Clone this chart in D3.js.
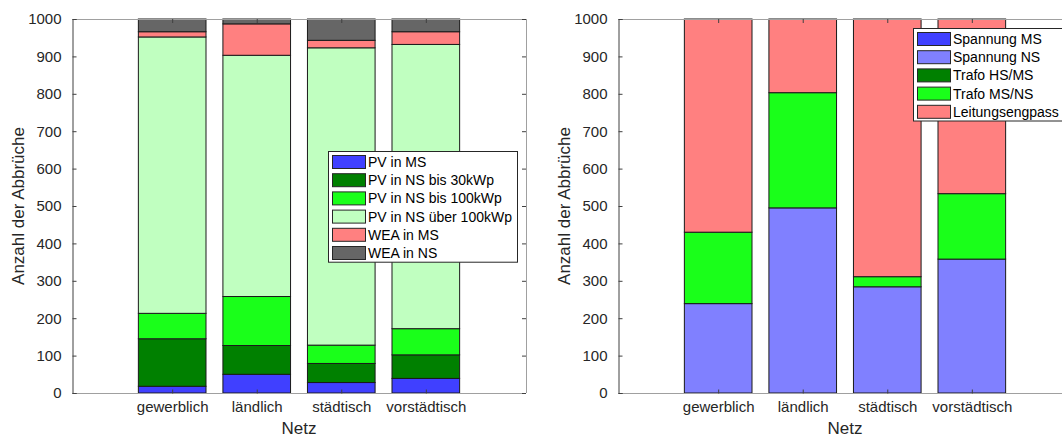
<!DOCTYPE html>
<html>
<head>
<meta charset="utf-8">
<script src="https://cdn.jsdelivr.net/npm/d3@7"></script>
<style>
  html, body { margin: 0; padding: 0; background: #fff; }
  svg { display: block; font-family: "Liberation Sans", Arial, sans-serif; }
</style>
</head>
<body>
<svg id="chart" width="1062" height="438"></svg>
<script>
// Grid types shared by both panels
const categories = ["gewerblich", "ländlich", "städtisch", "vorstädtisch"];
const yTicks = [0, 100, 200, 300, 400, 500, 600, 700, 800, 900, 1000];

// Left panel: aborts by generator type (stacked)
const leftNames = ["PV in MS", "PV in NS bis 30kWp", "PV in NS bis 100kWp", "PV in NS über 100kWp", "WEA in MS", "WEA in NS"];
const pvMS      = [18, 50, 28, 39];
const pvNS30    = [127, 77, 51, 63];
const pvNS100   = [68, 131, 49, 70];
const pvNSover  = [739, 645, 795, 760];
const weaMS     = [14, 84, 20, 34];
const weaNS     = [34, 13, 57, 34];
const leftColors = ["#4040ff", "#008000", "#1aff1a", "#c0ffc0", "#ff8080", "#666666"];

// Right panel: aborts by violated limit (stacked)
const rightNames = ["Spannung MS", "Spannung NS", "Trafo HS/MS", "Trafo MS/NS", "Leitungsengpass"];
const spannungMS = [0, 0, 0, 0];
const spannungNS = [239, 495, 284, 358];
const trafoHSMS  = [0, 0, 0, 0];
const trafoMSNS  = [191, 308, 27, 175];
const leitung    = [570, 197, 689, 467];
const rightColors = ["#4040ff", "#8080ff", "#008000", "#1aff1a", "#ff8080"];

const svg = d3.select("#chart");
const textColor = "#262626";
const boxColor = "#a0a0a0";

function drawPanel(left, seriesValues, names, colors, legendPos) {
  const width = 454, top = 19, bottom = 393;
  const g = svg.append("g").attr("transform", `translate(${left},0)`);

  const x = d3.scaleLinear().domain([-0.185, 5.185]).range([0, width]);
  const y = d3.scaleLinear().domain([0, 1000]).range([bottom, top]);
  const barW = x(0.8) - x(0);

  // build stacked table
  const rows = categories.map((c, i) => {
    const r = { cat: c, idx: i + 1 };
    names.forEach((n, k) => { r[n] = seriesValues[k][i]; });
    return r;
  });
  const stacked = d3.stack().keys(names)(rows);

  stacked.forEach((layer, k) => {
    g.append("g").selectAll("rect")
      .data(layer.filter(d => d[1] - d[0] > 0))
      .join("rect")
      .attr("x", d => x(d.data.idx) - barW / 2)
      .attr("width", barW)
      .attr("y", d => y(d[1]))
      .attr("height", d => y(d[0]) - y(d[1]))
      .attr("fill", colors[k])
      .attr("stroke", "#1a1a1a")
      .attr("stroke-width", 1);
  });

  // axes box
  const box = g.append("g").attr("fill", "none").attr("stroke", boxColor).attr("stroke-width", 1);
  box.append("line").attr("x1", 0).attr("x2", width).attr("y1", top + 0.5).attr("y2", top + 0.5);
  box.append("line").attr("x1", 0).attr("x2", width).attr("y1", bottom + 0.5).attr("y2", bottom + 0.5);
  box.append("line").attr("x1", width + 0.5).attr("x2", width + 0.5).attr("y1", top).attr("y2", bottom);

  // y axis (left) with inward ticks
  const yAxis = d3.axisLeft(y).tickValues(yTicks).tickSize(-4).tickPadding(11).tickFormat(d3.format("d"));
  const ya = g.append("g").attr("transform", "translate(0.5,0)").call(yAxis);
  ya.select(".domain").attr("stroke", "#404040");
  ya.selectAll(".tick line").attr("stroke", "#404040");
  ya.selectAll(".tick text").attr("fill", textColor).style("font-size", "15px")
    .style("font-family", "'Liberation Sans', Arial, sans-serif");

  // mirrored ticks on the right edge
  g.append("g").selectAll("line").data(yTicks).join("line")
    .attr("x1", width - 4).attr("x2", width)
    .attr("y1", d => y(d) + 0.5).attr("y2", d => y(d) + 0.5)
    .attr("stroke", "#404040");

  // x axis with category labels
  const xAxis = d3.axisBottom(x).tickValues([1, 2, 3, 4]).tickSize(-4).tickPadding(8)
    .tickFormat(d => categories[d - 1]);
  const xa = g.append("g").attr("transform", `translate(0,${bottom + 0.5})`).call(xAxis);
  xa.select(".domain").remove();
  xa.selectAll(".tick line").attr("stroke", "#404040");
  xa.selectAll(".tick text").attr("fill", textColor).style("font-size", "15px")
    .style("font-family", "'Liberation Sans', Arial, sans-serif");

  // top mirrored x ticks
  g.append("g").selectAll("line").data([1, 2, 3, 4]).join("line")
    .attr("x1", d => x(d) + 0.5).attr("x2", d => x(d) + 0.5)
    .attr("y1", top).attr("y2", top + 4)
    .attr("stroke", "#404040");

  // axis titles
  g.append("text")
    .attr("x", width / 2).attr("y", 434)
    .attr("text-anchor", "middle")
    .attr("fill", textColor).style("font-size", "17px")
    .text("Netz");
  g.append("text")
    .attr("transform", `translate(-48,${(top + bottom) / 2}) rotate(-90)`)
    .attr("text-anchor", "middle")
    .attr("fill", textColor).style("font-size", "17px")
    .text("Anzahl der Abbrüche");

  // legend
  const pitch = 18.2;
  const lg = svg.append("g").attr("transform", `translate(${legendPos.x},${legendPos.y})`);
  lg.append("rect")
    .attr("x", 0.5).attr("y", 0.5)
    .attr("width", legendPos.w).attr("height", names.length * pitch + 1.5)
    .attr("fill", "#fff").attr("stroke", "#262626").attr("stroke-width", 1);
  names.forEach((n, k) => {
    const cy = 11 + k * pitch;
    lg.append("rect")
      .attr("x", 4.5).attr("y", cy - 6.5)
      .attr("width", 33).attr("height", 13)
      .attr("fill", colors[k]).attr("stroke", "#262626").attr("stroke-width", 1);
    lg.append("text")
      .attr("x", 40).attr("y", cy + 5)
      .attr("fill", "#000").style("font-size", "14px")
      .text(n);
  });
}

drawPanel(72, [pvMS, pvNS30, pvNS100, pvNSover, weaMS, weaNS], leftNames, leftColors,
  { x: 328, y: 151, w: 189 });
drawPanel(618, [spannungMS, spannungNS, trafoHSMS, trafoMSNS, leitung], rightNames, rightColors,
  { x: 913, y: 28, w: 160 });
</script>
</body>
</html>
